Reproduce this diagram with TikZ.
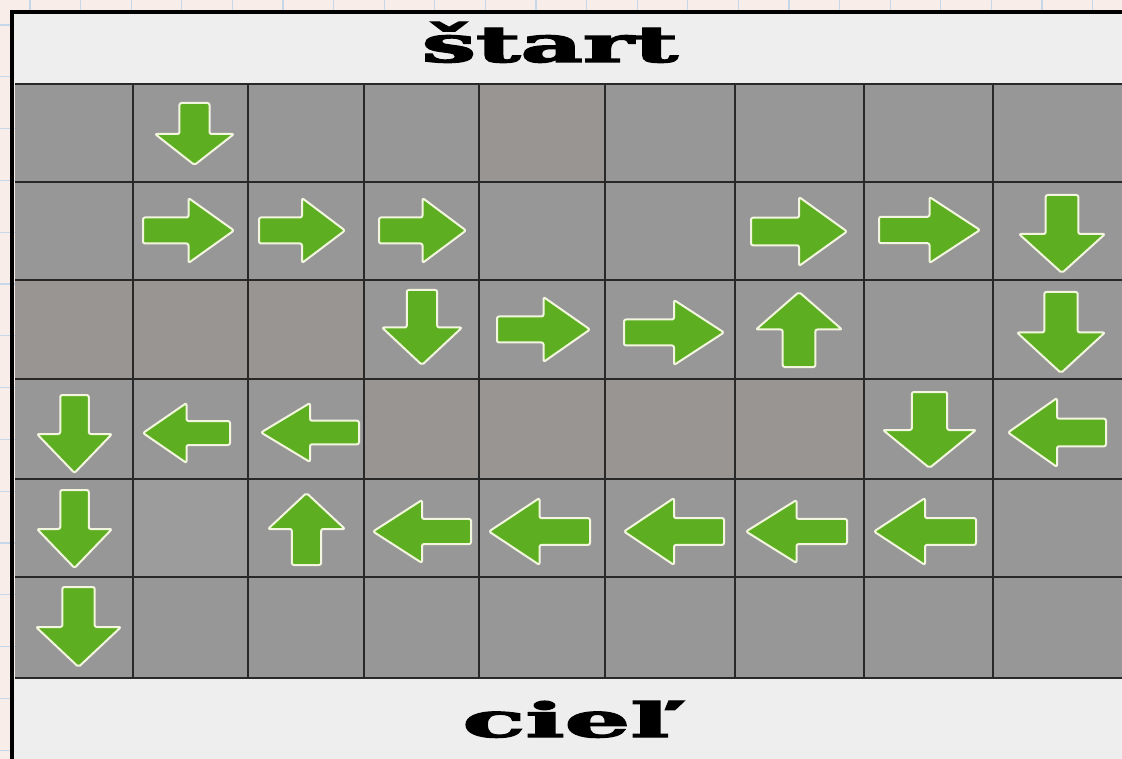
\documentclass[tikz,border=0pt]{standalone}
\usepackage{fontspec}
\newfontfamily\titlefont[FakeBold=2.5]{DejaVu Serif Bold}
\definecolor{bgpink}{RGB}{248,237,233}
\definecolor{gridblue}{RGB}{196,216,234}
\definecolor{tilegray}{RGB}{151,151,151}
\definecolor{tilewarm}{RGB}{153,149,147}
\definecolor{tilelight}{RGB}{156,156,156}
\definecolor{bandwhite}{RGB}{238,238,238}
\definecolor{arrgreen}{RGB}{94,174,34}
\definecolor{arredge}{RGB}{242,246,222}
\definecolor{tileline}{RGB}{40,40,40}
\tikzset{
  garrow/.style={fill=arrgreen, draw=arredge, line width=2pt, rounded corners=2pt, line join=round},
  tilebox/.style={fill=tilegray},
  warmbox/.style={fill=tilewarm},
  lightbox/.style={fill=tilelight},
  bandbox/.style={fill=bandwhite},
  seam/.style={draw=tileline, line width=1.4pt},
  frameline/.style={draw=black, line width=4pt},
  bggrid/.style={draw=gridblue, line width=1.3pt},
  label/.style={inner sep=0pt, anchor=base, text=black}
}
% right arrow: x1 y1 x2 y2
\newcommand\arrR[4]{%
  \pgfmathsetmacro\cy{(#2+#4)/2}\pgfmathsetmacro\hs{0.2*(#4-#2)}\pgfmathsetmacro\hx{#3-0.5*(#3-#1)}%
  \path[garrow] (#1,\cy-\hs) -- (\hx,\cy-\hs) -- (\hx,#2) -- (#3,\cy) -- (\hx,#4) -- (\hx,\cy+\hs) -- (#1,\cy+\hs) -- cycle;}
\newcommand\arrL[4]{%
  \pgfmathsetmacro\cy{(#2+#4)/2}\pgfmathsetmacro\hs{0.2*(#4-#2)}\pgfmathsetmacro\hx{#1+0.5*(#3-#1)}%
  \path[garrow] (#3,\cy-\hs) -- (\hx,\cy-\hs) -- (\hx,#2) -- (#1,\cy) -- (\hx,#4) -- (\hx,\cy+\hs) -- (#3,\cy+\hs) -- cycle;}
\newcommand\arrD[4]{%
  \pgfmathsetmacro\cx{(#1+#3)/2}\pgfmathsetmacro\hs{0.19*(#3-#1)}\pgfmathsetmacro\hy{#4-0.5*(#4-#2)}%
  \path[garrow] (\cx-\hs,#2) -- (\cx-\hs,\hy) -- (#1,\hy) -- (\cx,#4) -- (#3,\hy) -- (\cx+\hs,\hy) -- (\cx+\hs,#2) -- cycle;}
\newcommand\arrU[4]{%
  \pgfmathsetmacro\cx{(#1+#3)/2}\pgfmathsetmacro\hs{0.19*(#3-#1)}\pgfmathsetmacro\hy{#2+0.5*(#4-#2)}%
  \path[garrow] (\cx-\hs,#4) -- (\cx-\hs,\hy) -- (#1,\hy) -- (\cx,#2) -- (#3,\hy) -- (\cx+\hs,\hy) -- (\cx+\hs,#4) -- cycle;}
\begin{document}
\begin{tikzpicture}[x=1pt,y=-1pt]
\useasboundingbox (0,0) rectangle (1122,759);
% notebook background
\fill[bgpink] (0,0) rectangle (1122,759);
\foreach \gx in {0,...,22} \draw[bggrid] (30+50.6*\gx,0) -- (30+50.6*\gx,759);
\foreach \gy in {0,...,15} \draw[bggrid] (0,25+51.8*\gy) -- (1122,25+51.8*\gy);
% bands
\fill[bandbox] (12,12) rectangle (1130,84);
\fill[bandbox] (12,678) rectangle (1130,770);
% tiles
\foreach \xa/\xb in {15/133,133/248,248/364,364/479,479/605,605/735,735/864,864/993,993/1130}
  \foreach \ya/\yb in {84/182,182/280,280/379,379/479,479/577,577/678}
    \fill[tilebox] (\xa,\ya) rectangle (\xb,\yb);
% warmer / lighter tiles
\fill[warmbox] (15,280) rectangle (364,379);
\fill[warmbox] (364,379) rectangle (864,479);
\fill[warmbox] (479,84) rectangle (605,182);
\fill[lightbox] (133,479) rectangle (248,577);
% seams
\foreach \sx in {133,248,364,479,605,735,864,993}
  \draw[seam] (\sx,84) -- (\sx,678);
\foreach \sy in {84,182,280,379,479,577,678}
  \draw[seam] (15,\sy) -- (1130,\sy);
% frame
\draw[frameline] (12,770) -- (12,12) -- (1130,12);
% arrows
\arrD{155}{103}{234}{165}
\arrR{143}{198}{234}{263}
\arrR{259}{198}{345}{263}
\arrR{379}{198}{466}{263}
\arrR{751}{197}{847}{266}
\arrR{879}{197}{980}{263}
\arrD{1019}{195}{1105}{273}
\arrD{382}{290}{462}{365}
\arrR{497}{297}{590}{362}
\arrR{624}{300}{724}{365}
\arrU{756}{292}{842}{367}
\arrD{1017}{292}{1105}{373}
\arrD{37}{395}{112}{473}
\arrL{143}{403}{230}{463}
\arrL{261}{403}{359}{462}
\arrD{883}{392}{976}{468}
\arrL{1008}{398}{1106}{467}
\arrD{37}{490}{112}{568}
\arrU{268}{493}{345}{565}
\arrL{373}{500}{471}{563}
\arrL{489}{498}{590}{565}
\arrL{624}{498}{724}{565}
\arrL{746}{500}{847}{563}
\arrL{874}{498}{976}{565}
\arrD{36}{587}{121}{667}
% labels
\node[label] (start) at (550,62) {\resizebox{256pt}{40pt}{\titlefont štart}};
\node[label] (ciel) at (566,737) {\resizebox{207pt}{36pt}{\titlefont cieľ}};
\end{tikzpicture}
\end{document}
